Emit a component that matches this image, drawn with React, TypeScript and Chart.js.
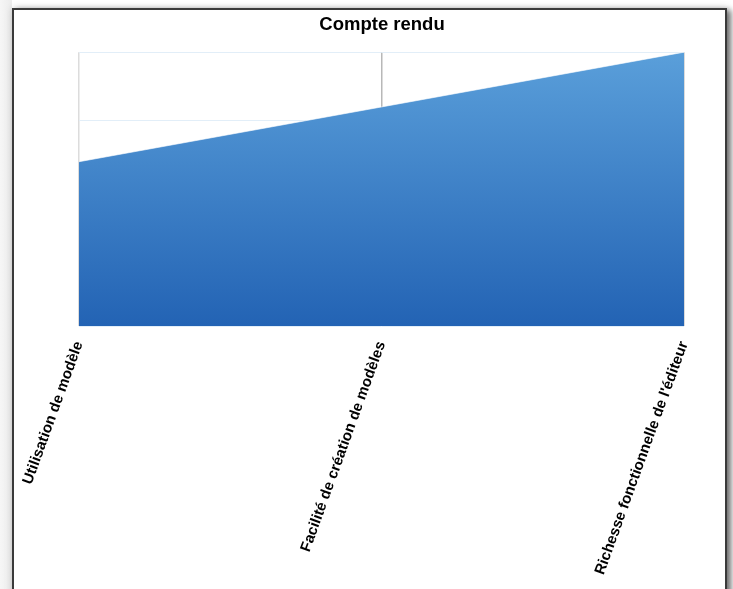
import React, { useEffect, useRef } from "react";
import { Chart, registerables } from "chart.js";

Chart.register(...registerables);

const chartTitle = "Compte rendu";
const categories = [
  "Utilisation de modèle",
  "Facilité de création de modèles",
  "Richesse fonctionnelle de l'éditeur",
];
const scores = [2.4, 3.2, 4.0];
const yMin = 0;
const yMax = 4;
const yStep = 1;

export default function App() {
  const canvasRef = useRef<HTMLCanvasElement | null>(null);

  useEffect(() => {
    const canvas = canvasRef.current;
    if (!canvas) return;
    const chart = new Chart(canvas, {
      type: "line",
      data: {
        labels: categories,
        datasets: [
          {
            label: chartTitle,
            data: scores,
            fill: "origin",
            tension: 0,
            pointRadius: 0,
            borderWidth: 1,
            borderColor: "rgba(255,255,255,0.6)",
            backgroundColor: (ctx: any) => {
              const { chart } = ctx;
              const area = chart.chartArea;
              if (!area) return "#3f83c8";
              const g = chart.ctx.createLinearGradient(0, area.top, 0, area.bottom);
              g.addColorStop(0, "#5a9fda");
              g.addColorStop(1, "#2363b4");
              return g;
            },
          },
        ],
      },
      options: {
        animation: false,
        responsive: false,
        maintainAspectRatio: false,
        layout: { padding: 0 },
        plugins: {
          legend: { display: false },
          tooltip: { enabled: false },
          title: {
            display: true,
            text: chartTitle,
            color: "#000",
            font: { family: "'Liberation Sans', Arial, sans-serif", size: 18.5, weight: "bold" },
            padding: { top: 4, bottom: 16 },
          },
        },
        scales: {
          x: {
            offset: false,
            grid: {
              display: true,
              drawTicks: false,
              color: (c: any) => (c.index === 0 ? "#dcdcdc" : "#b8b8b8"),
              lineWidth: 1.5,
            },
            border: { display: false },
            ticks: {
              autoSkip: false,
              minRotation: 70,
              maxRotation: 70,
              padding: 13,
              color: "#000",
              font: { family: "'Liberation Sans', Arial, sans-serif", size: 15, weight: "bold" },
            },
            afterFit: (scale: any) => {
              scale.height = 265;
            },
          },
          y: {
            min: yMin,
            max: yMax,
            ticks: { display: false, stepSize: yStep },
            grid: { color: "#e2eef8", drawTicks: false, lineWidth: 1 },
            border: { display: false },
            afterFit: (scale: any) => {
              scale.width = 65;
            },
          },
          yRight: {
            type: "linear",
            position: "right",
            min: yMin,
            max: yMax,
            display: true,
            ticks: { display: false },
            grid: { display: false, drawTicks: false },
            border: { display: false },
            afterFit: (scale: any) => {
              scale.width = 66;
            },
          },
        },
      },
    });
    return () => chart.destroy();
  }, []);

  return (
    <div
      style={{
        position: "fixed",
        inset: 0,
        overflow: "hidden",
        background: "linear-gradient(to right, #f6f6f6 0px, #ececec 12px, #ffffff 12px)",
      }}
    >
      <div
        style={{
          position: "absolute",
          left: 12,
          top: 8,
          width: 711,
          height: 620,
          border: "2px solid #3a3a3a",
          background: "#fff",
          overflow: "hidden",
          boxShadow: "4px 2px 6px rgba(0,0,0,0.55), 0 0 8px rgba(0,0,0,0.12)",
        }}
      >
        <canvas
          ref={canvasRef}
          width={736}
          height={581}
          style={{ position: "absolute", left: 0, top: 0, width: 736, height: 581 }}
        />
      </div>
    </div>
  );
}
